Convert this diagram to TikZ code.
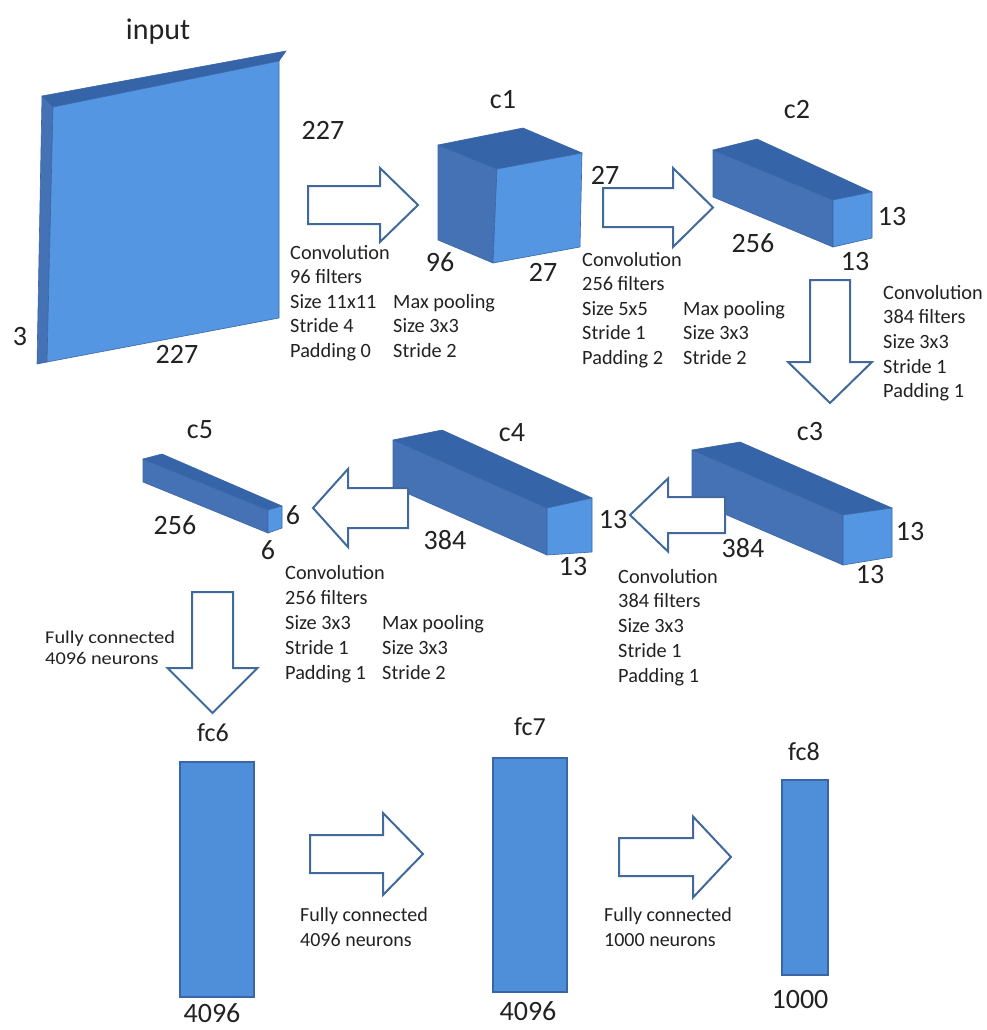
\documentclass[tikz,border=0pt]{standalone}
\usepackage{fontspec}
\setmainfont{Carlito}
\definecolor{topc}{HTML}{3564A8}
\definecolor{sidec}{HTML}{4572B4}
\definecolor{frontc}{HTML}{5596E2}
\definecolor{edgec}{HTML}{3A66A6}
\definecolor{arrc}{HTML}{41699C}
\definecolor{fcc}{HTML}{4F8FDA}
\definecolor{txtc}{HTML}{222222}
\newcommand\RArrow[6]{% tail x, head-base x, tip x, centre y, shaft half, head half
  \draw[blk] ({#1},{#4-#5}) -- ({#2},{#4-#5}) -- ({#2},{#4-#6}) -- ({#3},{#4})
    -- ({#2},{#4+#6}) -- ({#2},{#4+#5}) -- ({#1},{#4+#5}) -- cycle;}
\newcommand\DArrow[6]{% centre x, top y, head-base y, tip y, shaft half, head half
  \draw[blk] ({#1-#5},{#2}) -- ({#1+#5},{#2}) -- ({#1+#5},{#3}) -- ({#1+#6},{#3})
    -- ({#1},{#4}) -- ({#1-#6},{#3}) -- ({#1-#5},{#3}) -- cycle;}
\newcommand\Cuboid[7]{% A B C D D' C' A'
  \draw[topf] (#1) -- (#2) -- (#3) -- (#4) -- cycle;
  \draw[sidef] (#1) -- (#4) -- (#5) -- (#7) -- cycle;
  \draw[frontf] (#4) -- (#3) -- (#6) -- (#5) -- cycle;}
\begin{document}
\begin{tikzpicture}[x=1pt,y=-1pt,
  lbl/.style={font=\fontsize{28}{30}\selectfont, text=txtc, inner sep=0},
  small/.style={font=\fontsize{20.3}{22}\selectfont, text=txtc, inner sep=0, anchor=base west},
  fctxt/.style={font=\fontsize{20}{22}\selectfont, text=txtc, inner sep=0, anchor=base west},
  blk/.style={draw=arrc, line width=2pt, fill=white, line join=miter},
  topf/.style={fill=topc, draw=edgec, line width=0.6pt, line join=round},
  sidef/.style={fill=sidec, draw=edgec, line width=0.6pt, line join=round},
  frontf/.style={fill=frontc, draw=edgec, line width=0.6pt, line join=round},
  fcbox/.style={fill=fcc, draw=edgec, line width=1.5pt}]
\useasboundingbox[fill=white] (0,0) rectangle (987,1030);

% ---------- input slab ----------
\draw[topf] (42,96) -- (286,51) -- (279,61) -- (53,107) -- cycle;
\draw[sidef] (42,96) -- (53,107) -- (47,362) -- (37,364) -- cycle;
\draw[frontf] (53,107) -- (279,61) -- (279,318) -- (47,362) -- cycle;
\node[lbl, font=\fontsize{30}{32}\selectfont] (tinput) at (158,32) {input};
\node[lbl] (in227a) at (323,130) {227};
\node[lbl] (in3) at (20,337) {3};
\node[lbl] (in227b) at (177,354) {227};

% ---------- c1 cube ----------
\draw[topf] (438,145) -- (523,128) -- (582,153) -- (497,169) -- cycle;
\draw[sidef] (438,145) -- (497,169) -- (493,263) -- (438,240) -- cycle;
\draw[frontf] (497,169) -- (582,153) -- (580,247) -- (493,263) -- cycle;
\node[lbl] (tc1) at (503,100) {c1};
\node[lbl] (c1a) at (440,262) {96};
\node[lbl] (c1b) at (543,272) {27};
\node[lbl] (c1c) at (605,175) {27};

% ---------- c2 ----------
\Cuboid{713,150}{757,139}{872,192}{833,200}{833,247}{872,238}{713,197}
\node[lbl] (tc2) at (797,110) {c2};
\node[lbl] (c2a) at (753,243) {256};
\node[lbl] (c2b) at (892,217) {13};
\node[lbl] (c2c) at (855,262) {13};

% ---------- c3 ----------
\Cuboid{692,450}{740,442}{892,508}{843,515}{843,565}{892,557}{692,500}
\node[lbl] (tc3) at (810,432) {c3};
\node[lbl] (c3a) at (910,532) {13};
\node[lbl] (c3b) at (870,575) {13};

% ---------- c4 ----------
\Cuboid{393,440}{442,430}{592,498}{547,508}{547,555}{592,552}{393,487}
\node[lbl] (tc4) at (512,433) {c4};
\node[lbl] (c4b) at (573,567) {13};

% ---------- c5 ----------
\Cuboid{143,459}{162,454}{282,506}{268,510}{268,533}{282,528}{143,482}
\node[lbl] (tc5) at (200,430) {c5};
\node[lbl] (c5a) at (175,525) {256};
\node[lbl] (c5b) at (293,515) {6};
\node[lbl] (c5c) at (268,550) {6};

% ---------- block arrows ----------
\RArrow{308}{380}{418}{205}{19}{37}
\RArrow{603}{673}{713}{207.5}{19.5}{39.5}
\DArrow{830}{280}{362}{403}{20}{42}
\RArrow{725}{668}{630}{515}{18}{36.5}
\RArrow{408}{348}{313}{508}{20}{39}
\DArrow{212.5}{592}{668}{713}{20.5}{45}
\RArrow{310}{383}{423}{854}{19}{41}
\RArrow{619}{693}{731}{857}{19}{40.5}

% labels drawn after arrows
\node[lbl] (c3c) at (743,548) {384};
\node[lbl] (c4a) at (445,540) {384};
\node[lbl] (c4c) at (613,520) {13};

% ---------- text blocks ----------
\foreach \t [count=\i from 0] in {Convolution,96 filters,Size 11x11,Stride 4,Padding 0}
  \node[small] (ta\i) at (290,{259+24.5*\i}) {\t};
\foreach \t [count=\i from 0] in {Max pooling,Size 3x3,Stride 2}
  \node[small] (pa\i) at (393,{308+24.5*\i}) {\t};
\foreach \t [count=\i from 0] in {Convolution,256 filters,Size 5x5,Stride 1,Padding 2}
  \node[small] (tb\i) at (582,{266+24.5*\i}) {\t};
\foreach \t [count=\i from 0] in {Max pooling,Size 3x3,Stride 2}
  \node[small] (pb\i) at (683,{315+24.5*\i}) {\t};
\foreach \t [count=\i from 0] in {Convolution,384 filters,Size 3x3,Stride 1,Padding 1}
  \node[small] (tc\i) at (883,{299+24.7*\i}) {\t};
\foreach \t [count=\i from 0] in {Convolution,384 filters,Size 3x3,Stride 1,Padding 1}
  \node[small] (td\i) at (618,{583+24.75*\i}) {\t};
\foreach \t [count=\i from 0] in {Convolution,256 filters,Size 3x3,Stride 1,Padding 1}
  \node[small] (te\i) at (285,{579+25*\i}) {\t};
\foreach \t [count=\i from 0] in {Max pooling,Size 3x3,Stride 2}
  \node[small] (pe\i) at (382,{629+25*\i}) {\t};

\node[fctxt, font=\fontsize{18}{20}\selectfont] (fa0) at (45,643) {\scalebox{1.13}[1]{Fully connected}};
\node[fctxt, font=\fontsize{18}{20}\selectfont] (fa1) at (45,664) {\scalebox{1.13}[1]{4096 neurons}};
\node[fctxt] (fb0) at (300,921) {Fully connected};
\node[fctxt] (fb1) at (300,946) {4096 neurons};
\node[fctxt] (fc0) at (604,921) {Fully connected};
\node[fctxt] (fc1) at (604,946) {1000 neurons};

% ---------- fully connected layers ----------
\draw[fcbox] (180,762) rectangle (254,997);
\draw[fcbox] (493,758) rectangle (567,992);
\draw[fcbox] (782,780) rectangle (828,975);
\node[lbl, font=\fontsize{26}{28}\selectfont] (tfc6) at (213,733) {fc6};
\node[lbl, font=\fontsize{26}{28}\selectfont] (tfc7) at (530,727) {fc7};
\node[lbl, font=\fontsize{26}{28}\selectfont] (tfc8) at (804,752) {fc8};
\node[lbl] (n6) at (212,1013) {4096};
\node[lbl] (n7) at (528,1011) {4096};
\node[lbl] (n8) at (800,999) {1000};
\end{tikzpicture}
\end{document}
